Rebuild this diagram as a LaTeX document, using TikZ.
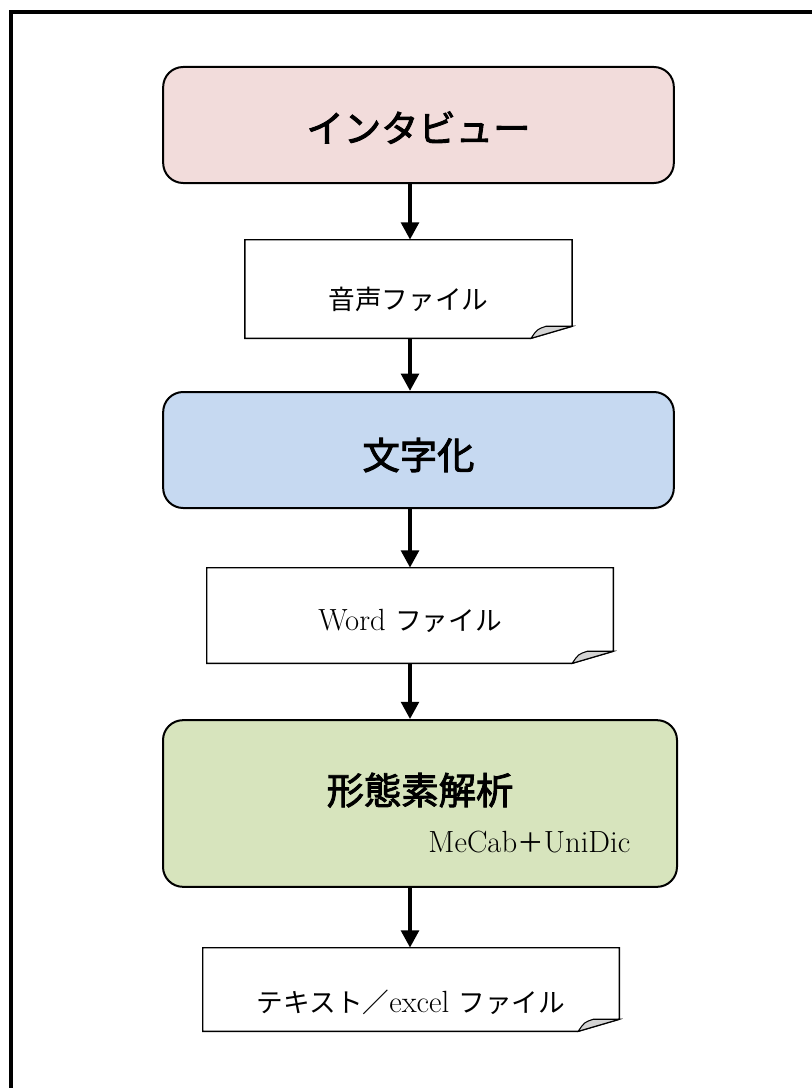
\documentclass[tikz,border=0pt]{standalone}
\usepackage{fontspec}
\usepackage{xcolor}
\newfontfamily\jpfont{Noto Sans CJK JP}
\newfontfamily\jptitle[FakeBold=2.4]{Noto Sans CJK JP}
\usetikzlibrary{arrows.meta, positioning, calc}

\definecolor{stagepink}{HTML}{F2DCDB}
\definecolor{stageblue}{HTML}{C6D9F1}
\definecolor{stagegreen}{HTML}{D7E4BD}
\definecolor{foldgray}{HTML}{D4D4D4}

\begin{document}
\begin{tikzpicture}[
    x=0.75pt, y=-0.75pt,
    stage/.style={rectangle, draw, line width=1.5pt, rounded corners=15pt, minimum width=383pt, minimum height=87pt, inner sep=0pt, font=\jptitle\fontsize{28}{34}\selectfont},
    doc/.style={rectangle, inner sep=0pt, font=\fontsize{23}{27}\selectfont},
    docline/.style={draw, line width=1.1pt},
    fold/.style={draw, line width=0.8pt, fill=foldgray},
    flow/.style={-{Triangle[length=13pt, width=13pt]}, line width=3.5pt}
]
\useasboundingbox (0,0) rectangle (812,1088);

% Frame
\begin{scope}
\clip (0,0) rectangle (812,1088);
\draw[line width=2.3pt] (11,12) rectangle (900,1200);
\end{scope}

% Process nodes
\node[stage, fill=stagepink] (interview) at (418.5,125) {\raisebox{-12.9pt}[0pt][0pt]{インタビュー}};
\node[stage, fill=stageblue] (transcribe) at (418.5,450) {\raisebox{-14.4pt}[0pt][0pt]{文字化}};
\node[stage, fill=stagegreen, minimum width=385.5pt, minimum height=125pt] (morph) at (420,803.5) {\raisebox{-0.6pt}[0pt][0pt]{形態素解析}};
\node[anchor=base east, font=\fontsize{23}{27}\selectfont] (mecab) at (635,852) {MeCab{\jpfont\fontsize{20}{24}\selectfont ＋}UniDic};

% File nodes
\node[doc, minimum width=245pt, minimum height=73.5pt] (audio) at (408.5,289) {\raisebox{-15pt}[0pt][0pt]{\jpfont\fontsize{20}{24}\selectfont 音声ファイル}};
\node[doc, minimum width=304.5pt, minimum height=71.25pt] (word) at (410,615.5) {\raisebox{-11.5pt}[0pt][0pt]{Word {\jpfont\fontsize{20}{24}\selectfont ファイル}}};
\node[doc, minimum width=312pt, minimum height=62.25pt] (excel) at (411,989.5) {\raisebox{-17.5pt}[0pt][0pt]{{\jpfont\fontsize{20}{24}\selectfont テキスト／}excel {\jpfont\fontsize{20}{24}\selectfont ファイル}}};

% Folded corners
\foreach \d in {audio, word, excel} {
  \draw[docline] (\d.north west) -- (\d.north east) -- ($(\d.south east)+(0,-12)$)
    -- ($(\d.south east)+(-41,0)$) -- (\d.south west) -- cycle;
  \draw[fold] ($(\d.south east)+(-41,0)$) -- ($(\d.south east)+(0,-12)$)
    -- ($(\d.south east)+(-26,-12)$) .. controls ($(\d.south east)+(-35,-9)$) .. ($(\d.south east)+(-41,0)$) -- cycle;
}

% Connections
\coordinate (col) at (410,0);
\draw[flow] (interview.south -| col) -- (audio.north -| col);
\draw[flow] (audio.south -| col) -- (transcribe.north -| col);
\draw[flow] (transcribe.south -| col) -- (word.north -| col);
\draw[flow] (word.south -| col) -- (morph.north -| col);
\draw[flow] (morph.south -| col) -- (excel.north -| col);

\end{tikzpicture}
\end{document}
